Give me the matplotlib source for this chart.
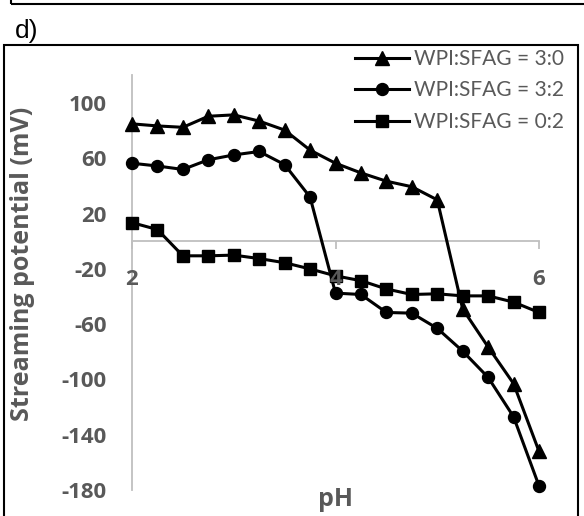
import matplotlib.pyplot as plt
from matplotlib.patches import Rectangle

ph = [2.0, 2.25, 2.5, 2.75, 3.0, 3.25, 3.5, 3.75, 4.0, 4.25, 4.5, 4.75, 5.0, 5.25, 5.5, 5.75, 6.0]
wpi_30 = [85, 83.5, 82.5, 90.5, 91.5, 87, 80.5, 66, 56.5, 49.5, 43.5, 39.5, 30, -49, -76.5, -103, -152]
wpi_32 = [56.5, 54.5, 52, 59, 62.5, 65, 55.5, 32, -37.5, -38.5, -51.5, -52, -63, -79.5, -98.5, -127, -177]
wpi_02 = [13.5, 8.5, -10.5, -10.5, -10, -12.5, -15.5, -20, -25, -28.5, -34.5, -38.5, -38, -39.5, -39.5, -44, -51.5]

labels = ['WPI:SFAG = 3:0', 'WPI:SFAG = 3:2', 'WPI:SFAG = 0:2']
xticks = [2, 4, 6]
yticks = [-180, -140, -100, -60, -20, 20, 60, 100]

gray = '#595959'
plt.rcParams['font.family'] = ['Lato', 'DejaVu Sans']
plt.rcParams['axes.unicode_minus'] = False
bold_font = ['Open Sans', 'DejaVu Sans']

W, H = 584, 516
fig = plt.figure(figsize=(W / 100, H / 100), dpi=100)
ax = fig.add_axes([132 / W, 1 - 490 / H, (539 - 132) / W, (490 - 75.5) / H])

ax.plot(ph, wpi_30, color='black', lw=2.2, marker='^', ms=10, clip_on=False, label=labels[0])
ax.plot(ph, wpi_32, color='black', lw=2.2, marker='o', ms=8.6, clip_on=False, label=labels[1])
ax.plot(ph, wpi_02, color='black', lw=2.2, marker='s', ms=8.6, clip_on=False, label=labels[2])

ax.set_xlim(2, 6)
ax.set_ylim(-180, 120)
ax.set_xticks(xticks)
ax.set_yticks(yticks)
ax.set_axisbelow(False)

for s in ['top', 'right']:
    ax.spines[s].set_visible(False)
ax.spines['left'].set_position(('data', 2))
ax.spines['bottom'].set_position(('data', 0))
for s in ['left', 'bottom']:
    ax.spines[s].set_color('#bfbfbf')
    ax.spines[s].set_linewidth(1.3)
    ax.spines[s].set_zorder(0.5)

ax.tick_params(axis='x', direction='out', length=6, width=1.3, color='#bfbfbf',
               pad=14, labelsize=16, labelcolor=gray)
ax.tick_params(axis='y', length=0, pad=18, labelsize=16, labelcolor=gray)
for t in ax.get_xticklabels() + ax.get_yticklabels():
    t.set_fontweight('bold')
    t.set_family(bold_font)

ax.set_ylabel('Streaming potential (mV)', fontsize=18, fontweight='bold', color=gray, family=bold_font)
ax.yaxis.set_label_coords(-0.238, 0.545)
ax.set_xlabel('pH', fontsize=18, fontweight='bold', color=gray, family=bold_font)
ax.xaxis.set_label_coords(0.5, 0.008)

fig.legend(loc='upper right', bbox_to_anchor=(564 / W, 1 - 49 / H), frameon=False,
           fontsize=15, labelcolor=gray, handlelength=2.6, handletextpad=0.25,
           labelspacing=0.55, borderpad=0, borderaxespad=0)

fig.text(15 / W, 1 - 38 / H, 'd)', fontsize=19, family='Liberation Sans', color='black')

fig.patches.append(Rectangle((4 / W, -0.1), (578 - 4) / W, 1.1 - 45 / H, transform=fig.transFigure,
                             fill=False, edgecolor='black', lw=1.5))
fig.patches.append(Rectangle((11 / W, 1 - 4 / H), 1, 0.2, transform=fig.transFigure,
                             fill=False, edgecolor='black', lw=1.5))

fig.savefig('out.png', dpi=100)
